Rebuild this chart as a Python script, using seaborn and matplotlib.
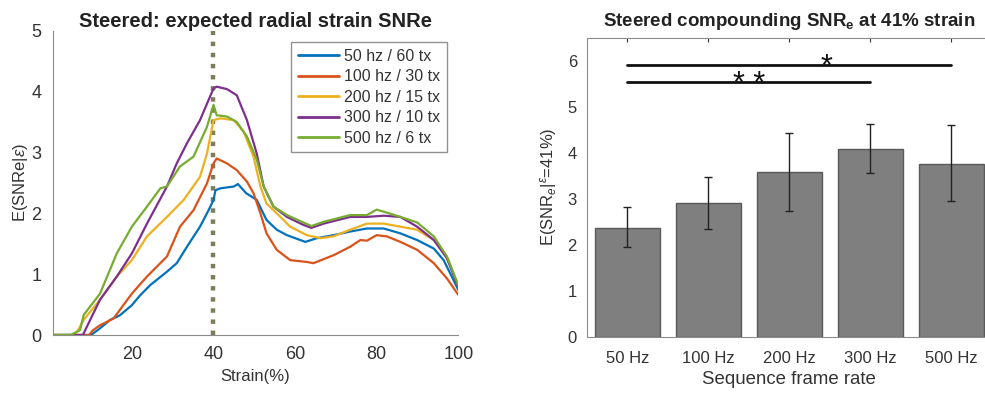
"""Steered compounding: SNRe curves vs strain and bar chart at 41% strain"""

import numpy as np
import pandas as pd
import matplotlib
matplotlib.use("Agg")
import matplotlib.pyplot as plt
import seaborn as sns

# ---- data ----
series_names = ['50 hz / 60 tx', '100 hz / 30 tx', '200 hz / 15 tx',
                '300 hz / 10 tx', '500 hz / 6 tx']

strain_50 = [1, 10, 11, 12.2, 14.7, 17, 20, 22, 24.5, 28.6, 31, 33.5, 36.7, 38.8, 40,
             40.5, 41.7, 45, 46, 48, 50.6, 53, 55.5, 58, 62.5, 65.3, 69.4, 73.5, 77.6,
             81.7, 85.8, 89.9, 94, 96.4, 98.4, 100]
snr_50 = [0, 0, 0.05, 0.11, 0.25, 0.32, 0.49, 0.65, 0.82, 1.04, 1.18, 1.45, 1.78, 2.05,
          2.22, 2.38, 2.41, 2.44, 2.48, 2.33, 2.22, 1.89, 1.73, 1.64, 1.53, 1.59, 1.64,
          1.70, 1.75, 1.75, 1.67, 1.56, 1.42, 1.23, 0.96, 0.74]

strain_100 = [1, 9.5, 10.5, 12.2, 15.5, 20, 23.7, 28.6, 31.8, 35.1, 38.4, 40, 40.8,
              43.3, 45.7, 48.2, 49.8, 51.5, 53, 55.5, 58.8, 62.9, 64.5, 69.4, 73.5, 76,
              77.6, 80, 82.5, 85.8, 89.9, 94, 97.2, 100]
snr_100 = [0, 0, 0.08, 0.16, 0.27, 0.68, 0.96, 1.29, 1.78, 2.05, 2.49, 2.82, 2.90,
           2.82, 2.71, 2.52, 2.33, 2.0, 1.67, 1.40, 1.23, 1.20, 1.18, 1.31, 1.45, 1.56,
           1.55, 1.64, 1.62, 1.53, 1.40, 1.18, 0.93, 0.66]

strain_200 = [1, 6, 7, 8.2, 12.2, 16.3, 20, 23.7, 28.6, 32.7, 36.7, 38.4, 40, 41.7, 45,
              47.4, 49.8, 51.5, 53, 55.5, 58.8, 62.9, 66.2, 69.4, 73.5, 77.6, 81.7,
              85.8, 89.9, 94, 97.2, 100]
snr_200 = [0, 0, 0.1, 0.25, 0.58, 0.96, 1.23, 1.62, 1.94, 2.22, 2.60, 2.98, 3.53, 3.56,
           3.53, 3.34, 2.93, 2.44, 2.16, 2.0, 1.78, 1.64, 1.59, 1.62, 1.73, 1.83, 1.83,
           1.78, 1.73, 1.56, 1.29, 0.79]

strain_300 = [1, 8, 9.8, 12.2, 16.3, 20, 23.7, 28.6, 31, 33.5, 36.7, 40, 40.8, 43.3,
              45.7, 48.2, 50.6, 52.3, 54.7, 58, 62, 64, 67, 73.5, 77.6, 81.7, 85.8,
              89.9, 94, 97.2, 100]
snr_300 = [0, 0, 0.25, 0.58, 0.96, 1.34, 1.83, 2.44, 2.82, 3.15, 3.53, 4.05, 4.08, 4.04,
           3.94, 3.53, 2.98, 2.44, 2.11, 1.94, 1.81, 1.76, 1.83, 1.94, 1.94, 1.96, 1.94,
           1.78, 1.56, 1.26, 0.79]

strain_500 = [1, 5, 7.3, 8.2, 12.2, 16.3, 20, 23.7, 27, 28.6, 31.8, 35.1, 38.4, 40,
              40.8, 43.3, 45.7, 48.2, 50.6, 52.3, 54.7, 58, 62, 64, 67, 73.5, 77.6, 80,
              82.5, 85.8, 89.9, 94, 97.2, 100]
snr_500 = [0, 0, 0.08, 0.33, 0.68, 1.34, 1.78, 2.11, 2.41, 2.44, 2.77, 2.93, 3.42, 3.78,
           3.61, 3.59, 3.50, 3.26, 2.88, 2.44, 2.11, 1.97, 1.85, 1.79, 1.86, 1.97, 1.97,
           2.06, 2.01, 1.94, 1.85, 1.62, 1.29, 0.82]

rates = ['50 Hz', '100 Hz', '200 Hz', '300 Hz', '500 Hz']
snr_41 = [2.37, 2.91, 3.58, 4.08, 3.76]
err_low = [1.94, 2.35, 2.74, 3.55, 2.94]
err_high = [2.81, 3.46, 4.43, 4.63, 4.59]

# significance lines: (from, to, level, label, label x, label centre y)
sig_pairs = [(0, 4, 5.91, '*', 2.46, 5.98), (0, 3, 5.53, '* *', 1.51, 5.61)]

matlab_colors = ['#0072BD', '#D95319', '#EDB120', '#7E2F8E', '#77AC30']
text_col = '#333333'
spine_col = '#8c8c8c'

# long format for seaborn
curves = [(strain_50, snr_50), (strain_100, snr_100), (strain_200, snr_200),
          (strain_300, snr_300), (strain_500, snr_500)]
frames = []
for name, (xs, ys) in zip(series_names, curves):
    frames.append(pd.DataFrame({'strain': xs, 'snr': ys, 'series': name}))
curve_df = pd.concat(frames, ignore_index=True)
bar_df = pd.DataFrame({'rate': rates, 'snr': snr_41})

sns.set_style("white")
plt.rcParams['font.family'] = ['Liberation Sans', 'DejaVu Sans']
plt.rcParams['mathtext.fontset'] = 'custom'
plt.rcParams['mathtext.rm'] = 'Liberation Sans'
plt.rcParams['mathtext.it'] = 'Liberation Sans:italic'
plt.rcParams['mathtext.bf'] = 'Liberation Sans:bold'

fig = plt.figure(figsize=(9.85, 3.99), dpi=100)
ax1 = fig.add_axes([0.0535, 0.1604, 0.4118, 0.7627])
ax2 = fig.add_axes([0.5956, 0.156, 0.4115, 0.750])

# ---- left: curves ----
sns.lineplot(data=curve_df, x='strain', y='snr', hue='series', palette=matlab_colors,
             estimator=None, sort=False, linewidth=1.6, ax=ax1)
ax1.axvline(40, color='#7d7d5a', linestyle=(0, (1, 1.5)), linewidth=3.2, zorder=1)
ax1.set_xlim(0.6, 100)
ax1.set_ylim(0, 5)
ax1.set_xticks([20, 40, 60, 80, 100])
ax1.set_yticks([0, 1, 2, 3, 4, 5])
ax1.set_title('Steered: expected radial strain SNRe', fontsize=14.5, fontweight='bold',
              color='#222222', pad=3)
ax1.set_xlabel('Strain(%)', fontsize=12, color=text_col, labelpad=4)
ax1.set_ylabel(r'E(SNRe|$\epsilon$)', fontsize=12, color=text_col, labelpad=1)
ax1.tick_params(axis='both', direction='in', length=3, labelsize=13,
                colors=text_col, pad=8)
for s in ['top', 'right']:
    ax1.spines[s].set_visible(False)
for s in ['left', 'bottom']:
    ax1.spines[s].set_color(spine_col)
leg = ax1.legend(loc='upper right', bbox_to_anchor=(0.971, 0.962), fontsize=11.5,
                 frameon=True, fancybox=False, borderpad=0.4, labelspacing=0.35,
                 handlelength=2.6, handletextpad=0.3, borderaxespad=0)
leg.get_frame().set_edgecolor('#777777')
leg.get_frame().set_linewidth(1.0)
for t in leg.get_texts():
    t.set_color(text_col)
for h in leg.get_lines():
    h.set_linewidth(2.0)

# ---- right: bars ----
sns.barplot(data=bar_df, x='rate', y='snr', color='#7f7f7f', saturation=1,
            width=0.8, edgecolor='#5a5a5a', linewidth=1.0, errorbar=None, ax=ax2)
xpos = np.arange(len(rates))
ax2.errorbar(xpos, snr_41,
             yerr=[np.array(snr_41) - np.array(err_low),
                   np.array(err_high) - np.array(snr_41)],
             fmt='none', ecolor='#222222', elinewidth=1.0, capsize=3, capthick=1.0)
star_size = 22
for i0, i1, lev, lab, lx, ly in sig_pairs:
    ax2.plot([i0, i1], [lev, lev], color='#111111', linewidth=2.0)
    # asterisk glyph centre sits roughly half an em above the baseline
    off = 0.46 * star_size * 100 / 72 / (ax2.bbox.height / 6.5)
    ax2.text(lx, ly - off, lab, ha='center', va='baseline',
             fontsize=star_size, color='#111111')
ax2.set_xlim(-0.5, 4.5)
ax2.set_ylim(0, 6.5)
ax2.set_yticks([0, 1, 2, 3, 4, 5, 6])
ax2.set_title(r'Steered compounding SNR$_\mathbf{e}$ at 41% strain', fontsize=13.5,
              fontweight='bold', color='#222222', pad=8)
ax2.set_xlabel('Sequence frame rate', fontsize=13.4, color=text_col, labelpad=4)
ax2.set_ylabel(r'E(SNR$_e$|$^{\epsilon}$=41%)', fontsize=12, color=text_col, labelpad=6)
ax2.tick_params(axis='both', direction='in', length=3, labelsize=12,
                colors=text_col, top=True, right=True, pad=7)
ax2.tick_params(axis='x', pad=10)
for s in ax2.spines.values():
    s.set_color(spine_col)

fig.savefig('out.png', dpi=100)
